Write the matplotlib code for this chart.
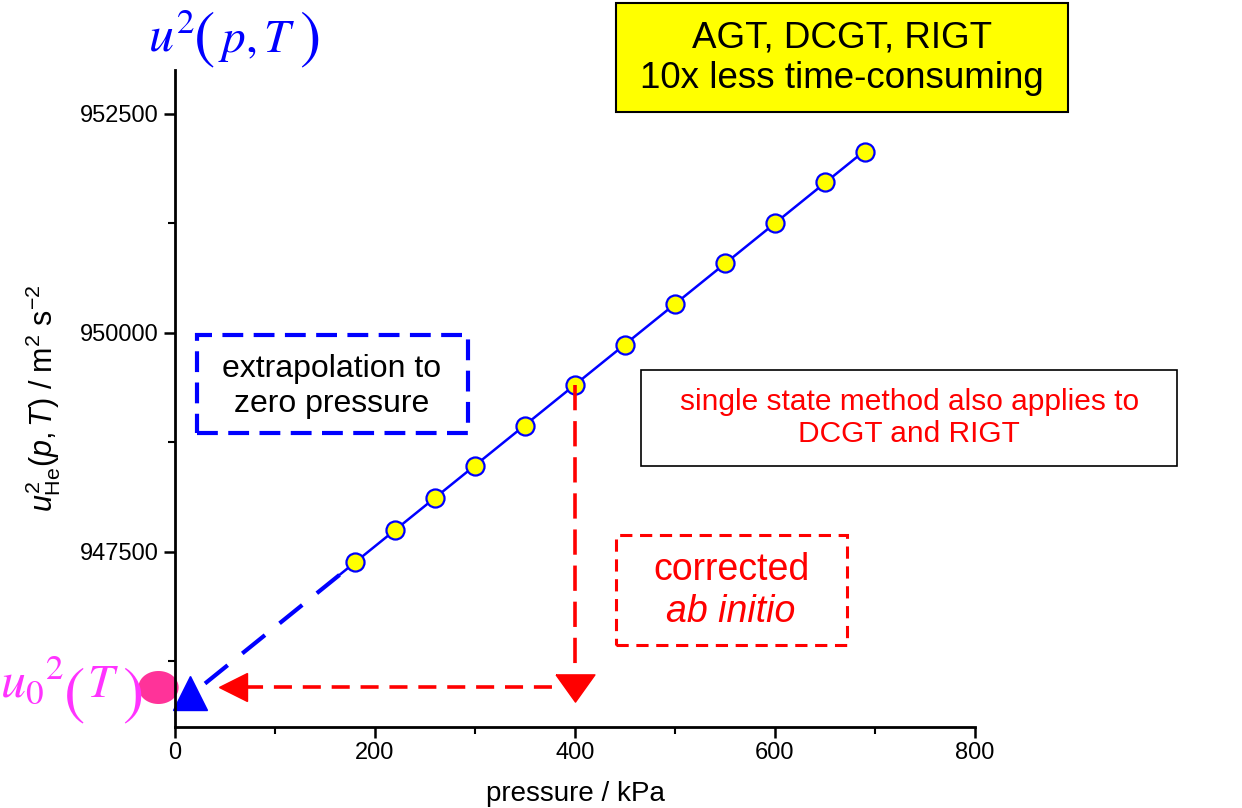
import numpy as np
import matplotlib.pyplot as plt
from matplotlib.patches import Rectangle
from matplotlib.ticker import MultipleLocator

plt.rcParams['font.family'] = ['Liberation Sans', 'DejaVu Sans']
plt.rcParams['mathtext.fontset'] = 'custom'
plt.rcParams['mathtext.rm'] = 'Liberation Sans'
plt.rcParams['mathtext.it'] = 'Liberation Sans:italic'

# data
pressure = [180, 220, 260, 300, 350, 400, 450, 500, 550, 600, 650, 690]
u_sq = [947386, 947751, 948116, 948481, 948938, 949406,
        949863, 950331, 950799, 951256, 951724, 952067]
u0_sq = 945960          # corrected ab initio level
p_triangle = 15
p_marker_red = 400
p_left_arrow = 58
p_ellipse = -17

coef = np.polyfit(pressure, u_sq, 1)
fit = np.poly1d(coef)

W, H = 1242, 808
fig = plt.figure(figsize=(W / 100, H / 100), dpi=100)
ax = fig.add_axes([0.1409, 0.1002, 0.6441, 0.8131])

# extrapolation (dashed) and fit (solid)
pe = np.array([30, 165])
ax.plot(pe, fit(pe), color='#0000ff', lw=3, dashes=(7, 4.5), solid_capstyle='butt')
pf = np.array([165, 692])
ax.plot(pf, fit(pf), color='#0000ff', lw=1.8)
ax.plot(pressure, u_sq, 'o', ms=13, mfc='#ffff00', mec='#0000ff', mew=1.6)

# red arrows
ax.plot([p_marker_red, p_marker_red], [u_sq[5], 946200], color='#ff0000',
        lw=2.6, dashes=(7, 3))
ax.plot([p_left_arrow + 12, 380], [u0_sq, u0_sq], color='#ff0000', lw=2.6, dashes=(5, 3))
down_tri = [(-1, 0.7), (1, 0.7), (0, -0.7), (-1, 0.7)]
ax.plot([p_marker_red], [945950], marker=down_tri, ms=28, color='#ff0000', clip_on=False)
ax.plot([p_left_arrow], [u0_sq], marker='<', ms=20, color='#ff0000', clip_on=False)

# zero-pressure markers
ax.plot([p_triangle], [fit(p_triangle) + 30], marker='^', ms=24, color='#0000ff', clip_on=False)
t = np.linspace(0, 2 * np.pi, 60)
ellipse = np.column_stack([np.cos(t), 0.82 * np.sin(t)])
ax.plot([p_ellipse], [u0_sq], marker=ellipse, ms=29, color='#ff3399', mec='none', clip_on=False)

ax.set_xlim(0, 800)
ax.set_ylim(945500, 953000)
ax.xaxis.set_major_locator(MultipleLocator(200))
ax.xaxis.set_minor_locator(MultipleLocator(100))
ax.yaxis.set_major_locator(MultipleLocator(2500))
ax.yaxis.set_minor_locator(MultipleLocator(1250))
for s in ['top', 'right']:
    ax.spines[s].set_visible(False)
for s in ['left', 'bottom']:
    ax.spines[s].set_linewidth(2)
ax.tick_params(which='major', length=8, width=1.8, labelsize=17, direction='out')
ax.tick_params(which='minor', length=5, width=1.5, direction='out')
ax.tick_params(axis='x', pad=3)

ax.set_xlabel('pressure / kPa', fontsize=20, labelpad=12)
ax.set_ylabel(r'$u^2_{\rm He}(p, T)$ / m$^2$ s$^{-2}$', fontsize=22, labelpad=12)


def piece(px, py, s, color, size, paren=False):
    # place a piece of the big serif labels at pixel position (baseline)
    if paren:
        fig.text(px / W, 1 - py / H, s, color=color, fontsize=size,
                 family='STIXGeneral', ha='left', va='baseline')
    else:
        fig.text(px / W, 1 - py / H, s, color=color, fontsize=size,
                 math_fontfamily='stix', ha='left', va='baseline')


blue = '#0000ff'
piece(148, 52, r'$u^2$', blue, 36)
piece(194, 55, '(', blue, 46, paren=True)
piece(218, 52, r'$p,T$', blue, 34)
piece(299, 55, ')', blue, 46, paren=True)

mag = '#ff33ff'
piece(0, 697, r'$u_0{}^2$', mag, 36)
piece(64, 711, '(', mag, 46, paren=True)
piece(87, 697, r'$T$', mag, 34)
piece(122, 711, ')', mag, 46, paren=True)

# boxes
fig.patches.append(Rectangle((0.496, 0.8614), 0.364, 0.1349, transform=fig.transFigure,
                             facecolor='#ffff00', edgecolor='black', lw=1.5))
fig.text(0.678, 0.928, 'AGT, DCGT, RIGT\n10x less time-consuming', fontsize=26.5,
         ha='center', va='center', linespacing=1.2)

fig.patches.append(Rectangle((0.1586, 0.4641), 0.2182, 0.1213, transform=fig.transFigure,
                             facecolor='none', edgecolor='#0000ff', lw=3, ls=(0, (5, 2.5))))
fig.text(0.2673, 0.522, 'extrapolation to\nzero pressure', fontsize=23,
         ha='center', va='center', linespacing=1.2)

fig.patches.append(Rectangle((0.5161, 0.4233), 0.4316, 0.1188, transform=fig.transFigure,
                             facecolor='none', edgecolor='black', lw=1.2))
fig.text(0.732, 0.4827, 'single state method also applies to\nDCGT and RIGT', fontsize=21.5,
         ha='center', va='center', color='#ff0000', linespacing=1.2)

fig.patches.append(Rectangle((0.496, 0.2017), 0.186, 0.1361, transform=fig.transFigure,
                             facecolor='none', edgecolor='#ff0000', lw=2.2, ls=(0, (4, 2.5))))
fig.text(0.5886, 0.2945, 'corrected', fontsize=27, ha='center', va='center', color='#ff0000')
fig.text(0.5886, 0.2425, 'ab initio', fontsize=27, ha='center', va='center', color='#ff0000',
         style='italic')

fig.savefig('out.png', dpi=100)
